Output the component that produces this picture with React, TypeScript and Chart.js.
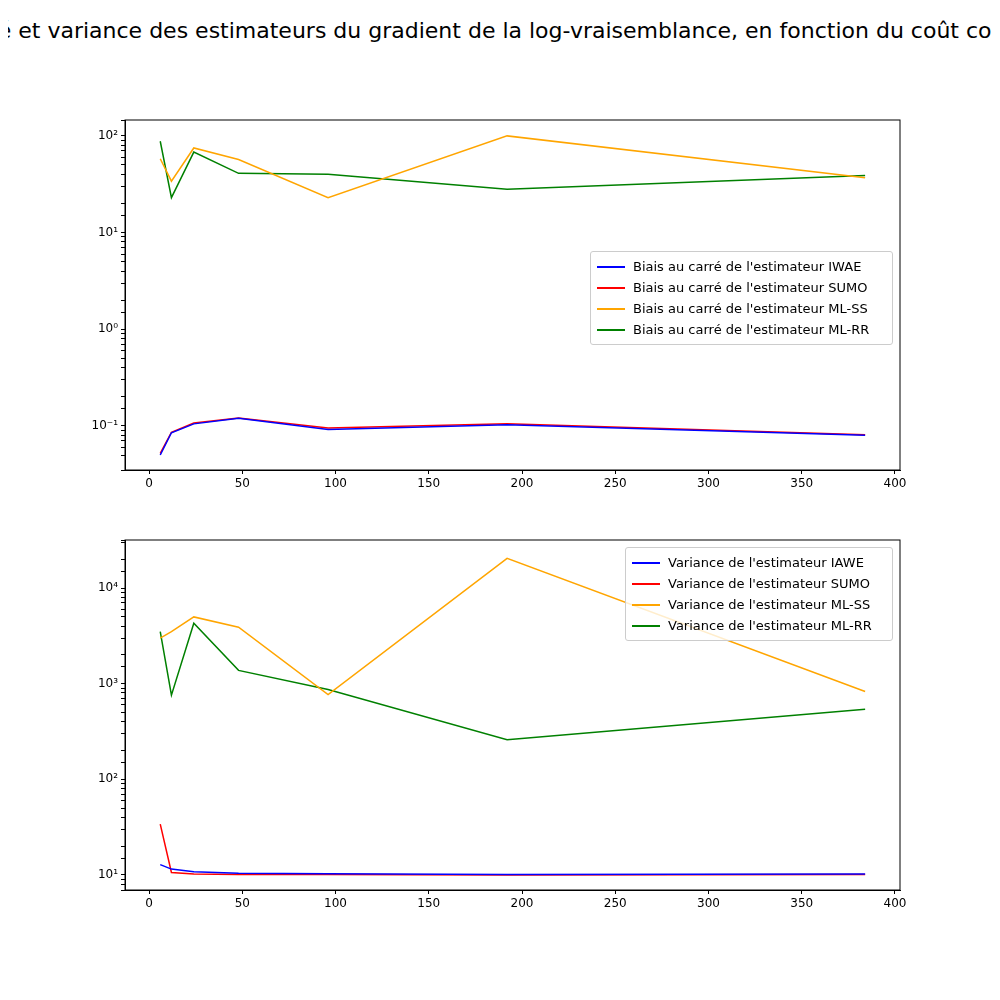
import { useEffect, useRef } from 'react'
import { Chart, registerables } from 'chart.js'

Chart.register(...registerables)

const costs = [6, 12, 24, 48, 96, 192, 384]

const biasIWAE = [0.05, 0.085, 0.105, 0.12, 0.092, 0.103, 0.08]
const biasSUMO = [0.052, 0.086, 0.107, 0.121, 0.095, 0.105, 0.081]
const biasMLSS = [58, 34, 75, 57, 23, 100, 37]
const biasMLRR = [88, 23, 68, 41, 40, 28, 39]

const varIAWE = [12.8, 11.5, 10.8, 10.4, 10.3, 10.1, 10.2]
const varSUMO = [34, 10.6, 10.2, 10.1, 10.1, 10.0, 10.1]
const varMLSS = [3000, 3500, 5000, 3900, 770, 20500, 830]
const varMLRR = [3500, 760, 4300, 1380, 870, 260, 540]

const colors = ['blue', 'red', 'orange', 'green']
const font = '"DejaVu Sans", sans-serif'
const sup: Record<string, string> = { '-': '⁻', '0': '⁰', '1': '¹', '2': '²', '3': '³', '4': '⁴' }

const boxPlugin = {
    id: 'box',
    afterDraw(c: Chart) {
        const { ctx, chartArea: a } = c
        ctx.save()
        ctx.strokeStyle = '#000'
        ctx.lineWidth = 1
        ctx.strokeRect(a.left, a.top, a.right - a.left, a.bottom - a.top)
        ctx.restore()
    },
}

function Panel({ series, labels, ymin, ymax, top, legend }: {
    series: number[][]; labels: string[]; ymin: number; ymax: number; top: number
    legend: { left: number; top: number; width: number }
}) {
    const ref = useRef<HTMLCanvasElement>(null)
    useEffect(() => {
        if (!ref.current) return
        const chart = new Chart(ref.current, {
            type: 'line',
            data: {
                datasets: series.map((s, i) => ({
                    label: labels[i],
                    data: s.map((v, j) => ({ x: costs[j], y: v })),
                    borderColor: colors[i],
                    borderWidth: 1.5,
                    pointRadius: 0,
                    tension: 0,
                })),
            },
            options: {
                animation: false,
                responsive: false,
                layout: { padding: { top: 20, right: 100, left: 0, bottom: 0 } },
                plugins: { legend: { display: false }, tooltip: { enabled: false } },
                scales: {
                    x: {
                        type: 'linear', min: -12.9, max: 402.7,
                        afterFit: (s: any) => { s.height = 30 },
                        afterBuildTicks: (s: any) => {
                            s.ticks = [0, 50, 100, 150, 200, 250, 300, 350, 400].map(v => ({ value: v }))
                        },
                        grid: { drawOnChartArea: false, tickLength: 4, color: '#000' },
                        border: { color: '#000' },
                        ticks: { color: '#000', font: { family: font, size: 12 }, maxRotation: 0 },
                    },
                    y: {
                        type: 'logarithmic', min: ymin, max: ymax,
                        afterFit: (s: any) => { s.width = 125 },
                        grid: { drawOnChartArea: false, tickLength: 4, color: '#000' },
                        border: { color: '#000' },
                        ticks: {
                            color: '#000', font: { family: font, size: 12 }, autoSkip: false,
                            callback: (v: any) => {
                                const e = Math.log10(Number(v))
                                if (Math.abs(e - Math.round(e)) > 1e-6) return ''
                                return '10' + String(Math.round(e)).split('').map(ch => sup[ch]).join('')
                            },
                        },
                    },
                },
            },
            plugins: [boxPlugin],
        })
        return () => { chart.destroy() }
    }, [])
    return (
        <div style={{ position: 'absolute', left: 0, top, width: 1000, height: 400 }}>
            <canvas ref={ref} width={1000} height={400} />
            <div style={{
                position: 'absolute', left: legend.left, top: legend.top, width: legend.width,
                border: '1px solid #ccc', borderRadius: 3, background: 'rgba(255,255,255,0.8)',
                padding: '4px 6px', boxSizing: 'border-box', fontFamily: font, fontSize: 13,
            }}>
                {labels.map((l, i) => (
                    <div key={l} style={{ display: 'flex', alignItems: 'center', height: 21 }}>
                        <span style={{ display: 'inline-block', width: 28, height: 0, borderTop: `2px solid ${colors[i]}`, marginRight: 8 }} />
                        <span>{l}</span>
                    </div>
                ))}
            </div>
        </div>
    )
}

export default function App() {
    return (
        <div style={{ position: 'relative', width: 1000, height: 1000, margin: -8, overflow: 'hidden', background: '#fff' }}>
            <div style={{
                position: 'absolute', top: 18, left: -600, width: 2200, textAlign: 'center',
                fontFamily: font, fontSize: 22, whiteSpace: 'nowrap',
            }}>
                Biais au carré et variance des estimateurs du gradient de la log-vraisemblance, en fonction du coût computationnel
            </div>
            <Panel
                series={[biasIWAE, biasSUMO, biasMLSS, biasMLRR]}
                labels={["Biais au carré de l'estimateur IWAE", "Biais au carré de l'estimateur SUMO", "Biais au carré de l'estimateur ML-SS", "Biais au carré de l'estimateur ML-RR"]}
                ymin={0.035} ymax={146} top={100}
                legend={{ left: 590, top: 151, width: 303 }}
            />
            <Panel
                series={[varIAWE, varSUMO, varMLSS, varMLRR]}
                labels={["Variance de l'estimateur IAWE", "Variance de l'estimateur SUMO", "Variance de l'estimateur ML-SS", "Variance de l'estimateur ML-RR"]}
                ymin={6.95} ymax={31900} top={520}
                legend={{ left: 625, top: 27, width: 268 }}
            />
        </div>
    )
}
